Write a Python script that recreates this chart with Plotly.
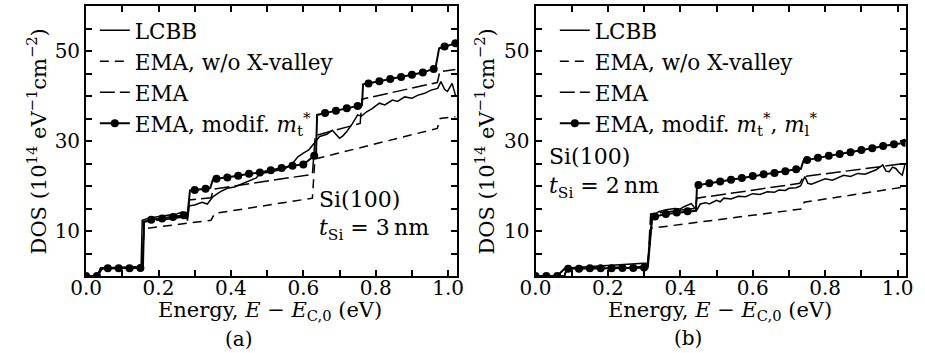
import plotly.graph_objects as go

FONT = "DejaVu Serif"

# ---------------- data ----------------
x_mark = [0.00, 0.03, 0.06, 0.09, 0.12, 0.15, 0.18, 0.21, 0.24, 0.27, 0.30, 0.33,
          0.36, 0.39, 0.42, 0.45, 0.48, 0.51, 0.54, 0.57, 0.60, 0.63, 0.66, 0.69,
          0.72, 0.75, 0.78, 0.81, 0.84, 0.87, 0.90, 0.93, 0.96, 0.99, 1.02]

# panel (a): t_Si = 3 nm
a_mod_y = [0, 0, 1.7, 1.7, 1.7, 1.8, 12.5, 12.8, 13.1, 13.5, 19.1, 19.4,
           21.6, 21.9, 22.3, 22.7, 23.0, 23.5, 24.0, 24.5, 24.8, 26.7, 36.2, 36.7,
           37.3, 37.8, 42.8, 43.3, 43.8, 44.2, 44.7, 45.2, 46.0, 51.0, 51.7]
a_mod_bend_x = [0.045, 0.157, 0.160, 0.280, 0.287, 0.343, 0.350, 0.635, 0.638, 0.762, 0.765, 0.965, 0.975]
a_mod_bend_y = [1.7, 1.9, 12.1, 13.6, 19.0, 19.6, 21.4, 26.8, 35.8, 38.0, 42.6, 46.2, 50.6]

a_lcbb_x = [0.0, 0.03, 0.04, 0.08, 0.12, 0.152, 0.155, 0.17, 0.20, 0.23, 0.25, 0.265, 0.275,
            0.28, 0.285, 0.30, 0.32, 0.335, 0.35, 0.37, 0.39, 0.41, 0.425, 0.45, 0.47, 0.48,
            0.50, 0.53, 0.55, 0.57, 0.585, 0.60, 0.615, 0.63, 0.645, 0.665, 0.68, 0.69, 0.70,
            0.71, 0.72, 0.735, 0.75, 0.76, 0.775, 0.79, 0.81, 0.825, 0.846, 0.86, 0.88, 0.90,
            0.917, 0.935, 0.953, 0.971, 0.98, 0.99, 0.998, 1.011, 1.02]
a_lcbb_y = [0, 0, 1.8, 1.9, 2.0, 2.1, 12.4, 12.8, 13.2, 13.6, 13.8, 14.2, 14.0,
            12.3, 15.6, 15.8, 16.4, 16.0, 17.6, 18.7, 19.5, 19.8, 20.3, 21.2, 21.8, 22.8,
            23.0, 23.5, 23.9, 25.0, 26.5, 27.3, 28.0, 29.5, 31.0, 31.5, 32.4, 31.5, 30.6,
            31.2, 32.1, 33.8, 35.8, 35.5, 36.5, 37.2, 38.4, 38.0, 39.1, 38.8, 39.8, 39.5,
            40.2, 40.6, 41.3, 41.7, 43.2, 41.5, 41.0, 42.8, 40.2]

a_ema_x = [0.0, 0.035, 0.04, 0.155, 0.16, 0.28, 0.285, 0.345, 0.352, 0.625, 0.633, 0.757, 0.762, 0.97, 0.977, 1.02]
a_ema_y = [0, 0, 1.7, 1.9, 12.0, 13.2, 16.9, 17.4, 19.3, 22.6, 31.2, 33.9, 39.3, 43.0, 45.4, 45.9]

a_nox_x = [0.0, 0.035, 0.04, 0.155, 0.16, 0.345, 0.355, 0.625, 0.632, 0.97, 0.978, 1.02]
a_nox_y = [0, 0, 1.6, 1.8, 10.5, 12.4, 13.9, 17.3, 26.0, 32.8, 35.0, 35.4]

# panel (b): t_Si = 2 nm
b_mod_y = [0, 0, 0, 1.6, 1.6, 1.7, 1.7, 1.7, 1.8, 1.8, 1.9, 13.2,
           13.8, 14.1, 14.4, 20.2, 20.6, 21.0, 21.4, 21.8, 22.2, 22.6, 22.9, 23.3,
           23.7, 25.8, 26.3, 26.7, 27.1, 27.5, 28.0, 28.4, 28.9, 29.3, 29.6]
b_mod_bend_x = [0.080, 0.310, 0.322, 0.443, 0.446, 0.733, 0.740]
b_mod_bend_y = [1.6, 1.9, 12.8, 14.5, 20.0, 23.8, 25.6]

b_lcbb_x = [0.0, 0.08, 0.088, 0.20, 0.31, 0.322, 0.34, 0.36, 0.385, 0.40, 0.41, 0.43, 0.44,
            0.445, 0.455, 0.47, 0.48, 0.50, 0.51, 0.52, 0.54, 0.56, 0.58, 0.60, 0.62, 0.64,
            0.66, 0.672, 0.69, 0.70, 0.72, 0.732, 0.744, 0.752, 0.762, 0.78, 0.80, 0.82, 0.84,
            0.851, 0.87, 0.89, 0.91, 0.93, 0.941, 0.959, 0.968, 0.977, 0.986, 0.995, 1.004,
            1.013, 1.02]
b_lcbb_y = [0, 0, 1.8, 2.3, 2.9, 13.3, 14.3, 14.7, 15.0, 14.9, 15.4, 16.1, 15.2,
            14.6, 16.0, 16.3, 16.0, 16.8, 16.5, 17.3, 17.1, 17.7, 17.6, 18.3, 18.1, 18.7,
            18.6, 19.1, 19.0, 19.5, 19.6, 20.0, 22.1, 20.6, 20.4, 21.0, 21.6, 21.3, 22.0,
            22.4, 22.1, 22.8, 22.6, 23.3, 23.6, 24.7, 23.3, 23.2, 24.2, 23.9, 23.0,
            22.4, 24.7]

b_ema_x = [0.0, 0.08, 0.086, 0.31, 0.318, 0.44, 0.446, 0.73, 0.74, 1.02]
b_ema_y = [0, 0, 1.7, 2.1, 13.8, 15.0, 17.3, 20.6, 22.1, 25.0]

b_nox_x = [0.0, 0.08, 0.086, 0.31, 0.318, 0.735, 0.742, 1.02]
b_nox_y = [0, 0, 1.6, 1.9, 10.6, 14.9, 16.4, 19.8]

# axis ticks (labelled major ticks; unlabelled minor ticks in between)
x_tick_vals = [0.0, 0.2, 0.4, 0.6, 0.8, 1.0]
x_tick_text = ["0.0", "0.2", "0.4", "0.6", "0.8", "1.0"]
x_minor_vals = [0.1, 0.3, 0.5, 0.7, 0.9]
y_tick_vals = [10, 30, 50]
y_tick_text = ["10", "30", "50"]
y_minor_vals = [5, 15, 20, 25, 35, 40, 45, 55]

names = ["LCBB", "EMA, w/o X-valley", "EMA"]
mod_names = ["EMA, modif. <i>m</i><sub>t</sub><sup>*</sup>",
             "EMA, modif. <i>m</i><sub>t</sub><sup>*</sup>, <i>m</i><sub>l</sub><sup>*</sup>"]


def merge(xa, ya, xb, yb):
    pts = sorted(zip(list(xa) + list(xb), list(ya) + list(yb)))
    return [p[0] for p in pts], [p[1] for p in pts]


fig = go.Figure()

panels = [
    ("x", "y", "legend", a_lcbb_x, a_lcbb_y, a_nox_x, a_nox_y, a_ema_x, a_ema_y,
     a_mod_y, a_mod_bend_x, a_mod_bend_y, mod_names[0]),
    ("x2", "y2", "legend2", b_lcbb_x, b_lcbb_y, b_nox_x, b_nox_y, b_ema_x, b_ema_y,
     b_mod_y, b_mod_bend_x, b_mod_bend_y, mod_names[1]),
]

for (xa, ya, lg, lx, ly, nx, ny, ex, ey, my, bx, by, mname) in panels:
    fig.add_trace(go.Scatter(x=lx, y=ly, mode="lines", name=names[0], legend=lg,
                             legendgroup=lg + "1", xaxis=xa, yaxis=ya,
                             line=dict(color="black", width=1.5)))
    fig.add_trace(go.Scatter(x=nx, y=ny, mode="lines", name=names[1], legend=lg,
                             legendgroup=lg + "2", xaxis=xa, yaxis=ya,
                             line=dict(color="black", width=1.5, dash="9px,6px")))
    fig.add_trace(go.Scatter(x=ex, y=ey, mode="lines", name=names[2], legend=lg,
                             legendgroup=lg + "3", xaxis=xa, yaxis=ya,
                             line=dict(color="black", width=1.5, dash="15px,5px")))
    mlx, mly = merge(x_mark, my, bx, by)
    fig.add_trace(go.Scatter(x=mlx, y=mly, mode="lines", showlegend=False,
                             xaxis=xa, yaxis=ya, line=dict(color="black", width=2)))
    fig.add_trace(go.Scatter(x=x_mark, y=my, mode="markers", showlegend=False,
                             xaxis=xa, yaxis=ya,
                             marker=dict(color="black", size=8)))
    fig.add_trace(go.Scatter(x=[None], y=[None], mode="lines+markers", name=mname,
                             legend=lg, legendgroup=lg + "4", xaxis=xa, yaxis=ya,
                             line=dict(color="black", width=2),
                             marker=dict(color="black", size=8)))

axis_common = dict(showline=True, linecolor="black", linewidth=2, mirror="allticks",
                   ticks="inside", ticklen=6, tickwidth=1.5, tickcolor="black",
                   showgrid=False, zeroline=False,
                   tickfont=dict(family=FONT, size=20, color="black"))
minor_common = dict(ticks="inside", ticklen=6, tickwidth=1.5, tickcolor="black",
                    showgrid=False)

xtitle = "Energy, <i>E</i> − <i>E</i><sub>C,0</sub> (eV)"
ytitle = "DOS (10<sup>14</sup> eV<sup>−1</sup>cm<sup>−2</sup>)"

ydom = [0.2181, 0.983]
fig.update_layout(
    width=925, height=353,
    margin=dict(l=0, r=0, t=0, b=0),
    paper_bgcolor="white", plot_bgcolor="white",
    font=dict(family=FONT, size=21.5, color="black"),
    xaxis=dict(domain=[0.0778, 0.4897], range=[0, 1.025], anchor="y",
               tickvals=x_tick_vals, ticktext=x_tick_text, ticklabelstandoff=-7,
               minor=dict(tickvals=x_minor_vals, **minor_common), **axis_common),
    yaxis=dict(domain=ydom, range=[0, 60], anchor="x",
               tickvals=y_tick_vals, ticktext=y_tick_text,
               minor=dict(tickvals=y_minor_vals, **minor_common), **axis_common),
    xaxis2=dict(domain=[0.5766, 0.9873], range=[0, 1.022], anchor="y2",
                tickvals=x_tick_vals, ticktext=x_tick_text, ticklabelstandoff=-7,
                minor=dict(tickvals=x_minor_vals, **minor_common), **axis_common),
    yaxis2=dict(domain=ydom, range=[0, 60], anchor="x2",
                tickvals=y_tick_vals, ticktext=y_tick_text,
                minor=dict(tickvals=y_minor_vals, **minor_common), **axis_common),
    legend=dict(x=0.0875, y=0.972, xanchor="left", yanchor="top",
                bgcolor="rgba(0,0,0,0)", font=dict(size=21.5), tracegroupgap=0,
                traceorder="normal"),
    legend2=dict(x=0.598, y=0.972, xanchor="left", yanchor="top",
                 bgcolor="rgba(0,0,0,0)", font=dict(size=21.5), tracegroupgap=0,
                 traceorder="normal"),
    showlegend=True,
)

ann_font = dict(family=FONT, size=22, color="black")
title_font = dict(family=FONT, size=21, color="black")
# axis titles
for xc in (261 / 925, 723 / 925):
    fig.add_annotation(text=xtitle, xref="paper", yref="paper", x=xc, y=1 - 311 / 353,
                       xanchor="center", yanchor="middle", showarrow=False, font=title_font)
for xc in (22 / 925, 482 / 925):
    fig.add_annotation(text=ytitle, xref="paper", yref="paper", x=xc, y=1 - 141 / 353,
                       xanchor="center", yanchor="middle", showarrow=False,
                       textangle=-90, font=title_font)

fig.add_annotation(text="Si(100)", xref="paper", yref="paper", x=0.334, y=0.435,
                   xanchor="left", yanchor="middle", showarrow=False, font=ann_font)
fig.add_annotation(text="<i>t</i><sub>Si</sub> = 3\u2009nm", xref="paper", yref="paper",
                   x=0.334, y=0.350, xanchor="left", yanchor="middle", showarrow=False,
                   font=ann_font)
fig.add_annotation(text="Si(100)", xref="paper", yref="paper", x=0.589, y=0.558,
                   xanchor="left", yanchor="middle", showarrow=False, font=ann_font)
fig.add_annotation(text="<i>t</i><sub>Si</sub> = 2\u2009nm", xref="paper", yref="paper",
                   x=0.589, y=0.468, xanchor="left", yanchor="middle", showarrow=False,
                   font=ann_font)
fig.add_annotation(text="(a)", xref="paper", yref="paper", x=229 / 925, y=1 - 339 / 353,
                   xanchor="center", yanchor="middle", showarrow=False,
                   font=dict(family=FONT, size=20, color="black"))
fig.add_annotation(text="(b)", xref="paper", yref="paper", x=690 / 925, y=1 - 338 / 353,
                   xanchor="center", yanchor="middle", showarrow=False,
                   font=dict(family=FONT, size=20, color="black"))

fig.write_html("out.html")
